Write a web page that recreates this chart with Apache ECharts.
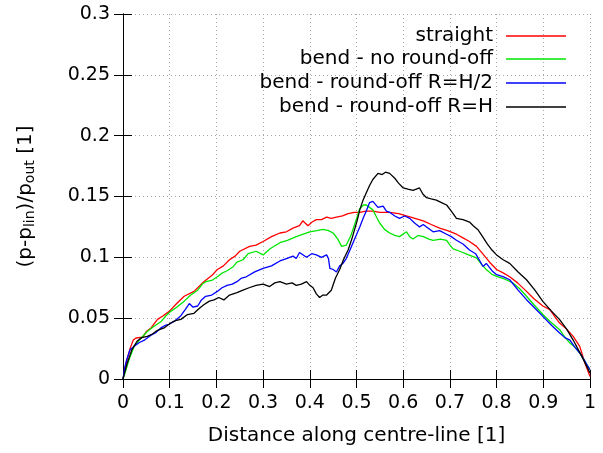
<!DOCTYPE html>
<html>
<head>
<meta charset="utf-8">
<script src="https://cdn.jsdelivr.net/npm/echarts@6/dist/echarts.min.js"></script>
<style>html,body{margin:0;padding:0;background:#fff}#c{width:603px;height:453px}</style>
</head>
<body>
<div id="c"></div>
<script>
const seriesNames = ['straight', 'bend - no round-off', 'bend - round-off R=H/2', 'bend - round-off R=H'];
const xTicks = [0, 0.1, 0.2, 0.3, 0.4, 0.5, 0.6, 0.7, 0.8, 0.9, 1];
const yTicks = [0, 0.05, 0.1, 0.15, 0.2, 0.25, 0.3];

const straight = [[0,0],[0.008,0.015],[0.016,0.026],[0.022,0.032],[0.028,0.0337],[0.042,0.0345],[0.05,0.039],[0.06,0.042],[0.074,0.049],[0.086,0.052],[0.099,0.0556],[0.115,0.062],[0.131,0.068],[0.152,0.072],[0.173,0.080],[0.19,0.085],[0.202,0.090],[0.215,0.093],[0.228,0.098],[0.240,0.101],[0.250,0.105],[0.271,0.109],[0.285,0.110],[0.3,0.113],[0.318,0.117],[0.336,0.120],[0.350,0.121],[0.364,0.124],[0.378,0.126],[0.385,0.130],[0.396,0.126],[0.405,0.129],[0.414,0.131],[0.425,0.131],[0.436,0.133],[0.446,0.132],[0.457,0.133],[0.470,0.134],[0.482,0.136],[0.495,0.137],[0.507,0.137],[0.520,0.138],[0.535,0.138],[0.550,0.137],[0.571,0.137],[0.590,0.136],[0.607,0.134],[0.625,0.132],[0.643,0.130],[0.660,0.127],[0.678,0.124],[0.695,0.122],[0.714,0.119],[0.728,0.116],[0.742,0.113],[0.757,0.109],[0.770,0.103],[0.785,0.096],[0.8,0.090],[0.815,0.087],[0.828,0.084],[0.845,0.079],[0.864,0.072],[0.880,0.066],[0.899,0.060],[0.914,0.057],[0.925,0.051],[0.935,0.046],[0.950,0.041],[0.964,0.035],[0.978,0.0268],[0.989,0.0132],[1.0,0.002]];

const noRoundOff = [[0,0],[0.006,0.007],[0.013,0.016],[0.024,0.027],[0.035,0.032],[0.052,0.039],[0.065,0.043],[0.081,0.047],[0.092,0.052],[0.102,0.0556],[0.115,0.059],[0.131,0.064],[0.145,0.069],[0.16,0.073],[0.170,0.078],[0.177,0.080],[0.190,0.081],[0.202,0.084],[0.212,0.087],[0.223,0.089],[0.235,0.092],[0.244,0.096],[0.257,0.098],[0.268,0.103],[0.285,0.105],[0.3,0.102],[0.315,0.107],[0.336,0.112],[0.352,0.114],[0.371,0.117],[0.386,0.119],[0.4,0.121],[0.415,0.122],[0.428,0.123],[0.440,0.122],[0.45,0.120],[0.460,0.115],[0.468,0.109],[0.478,0.110],[0.488,0.118],[0.496,0.127],[0.507,0.140],[0.515,0.143],[0.521,0.143],[0.535,0.139],[0.543,0.133],[0.55,0.128],[0.560,0.123],[0.571,0.120],[0.582,0.118],[0.592,0.117],[0.607,0.121],[0.614,0.117],[0.621,0.115],[0.632,0.118],[0.643,0.117],[0.655,0.115],[0.664,0.114],[0.680,0.115],[0.693,0.114],[0.700,0.110],[0.707,0.107],[0.721,0.105],[0.740,0.102],[0.757,0.0995],[0.768,0.094],[0.778,0.090],[0.790,0.086],[0.8,0.0844],[0.818,0.082],[0.835,0.079],[0.850,0.074],[0.864,0.068],[0.880,0.061],[0.899,0.053],[0.915,0.047],[0.935,0.0405],[0.945,0.035],[0.957,0.0295],[0.968,0.026],[0.978,0.0214],[0.990,0.014],[1.0,0.0076]];

const roundHalf = [[0,0],[0.004,0.010],[0.008,0.016],[0.015,0.024],[0.024,0.027],[0.035,0.030],[0.046,0.032],[0.06,0.036],[0.070,0.038],[0.081,0.042],[0.090,0.044],[0.099,0.045],[0.112,0.048],[0.124,0.052],[0.135,0.058],[0.142,0.062],[0.15,0.059],[0.16,0.060],[0.168,0.065],[0.177,0.068],[0.190,0.069],[0.202,0.072],[0.212,0.075],[0.223,0.077],[0.234,0.078],[0.244,0.080],[0.254,0.083],[0.264,0.084],[0.282,0.088],[0.3,0.091],[0.318,0.093],[0.336,0.097],[0.350,0.099],[0.364,0.101],[0.371,0.099],[0.378,0.104],[0.393,0.100],[0.404,0.103],[0.414,0.102],[0.425,0.100],[0.436,0.102],[0.440,0.099],[0.443,0.091],[0.450,0.090],[0.457,0.088],[0.464,0.093],[0.471,0.095],[0.478,0.099],[0.486,0.106],[0.496,0.115],[0.507,0.125],[0.514,0.132],[0.521,0.138],[0.528,0.145],[0.535,0.146],[0.546,0.141],[0.557,0.142],[0.564,0.138],[0.571,0.137],[0.582,0.134],[0.592,0.132],[0.603,0.134],[0.614,0.132],[0.625,0.128],[0.635,0.125],[0.643,0.127],[0.650,0.125],[0.664,0.121],[0.678,0.122],[0.693,0.119],[0.703,0.117],[0.714,0.114],[0.728,0.111],[0.742,0.106],[0.755,0.103],[0.771,0.0925],[0.778,0.095],[0.790,0.089],[0.8,0.0857],[0.815,0.084],[0.828,0.0816],[0.846,0.073],[0.864,0.0652],[0.880,0.059],[0.899,0.0515],[0.918,0.044],[0.935,0.0378],[0.946,0.034],[0.957,0.032],[0.968,0.026],[0.978,0.0214],[0.990,0.014],[1.0,0.0076]];

const roundFull = [[0,0],[0.009,0.013],[0.019,0.024],[0.03,0.031],[0.040,0.034],[0.052,0.035],[0.063,0.037],[0.074,0.040],[0.088,0.042],[0.102,0.046],[0.112,0.048],[0.124,0.049],[0.138,0.053],[0.152,0.054],[0.163,0.058],[0.173,0.061],[0.185,0.064],[0.195,0.065],[0.205,0.067],[0.216,0.065],[0.228,0.069],[0.244,0.071],[0.257,0.073],[0.270,0.075],[0.285,0.077],[0.300,0.078],[0.314,0.076],[0.325,0.079],[0.336,0.080],[0.350,0.078],[0.362,0.079],[0.371,0.077],[0.382,0.078],[0.393,0.080],[0.400,0.077],[0.407,0.075],[0.414,0.070],[0.421,0.067],[0.428,0.069],[0.436,0.069],[0.446,0.073],[0.455,0.083],[0.464,0.090],[0.472,0.098],[0.482,0.106],[0.490,0.115],[0.496,0.123],[0.502,0.131],[0.507,0.139],[0.514,0.147],[0.521,0.153],[0.528,0.159],[0.535,0.164],[0.546,0.169],[0.555,0.168],[0.562,0.170],[0.571,0.169],[0.582,0.165],[0.590,0.161],[0.6,0.157],[0.610,0.156],[0.621,0.155],[0.635,0.157],[0.642,0.152],[0.650,0.149],[0.660,0.148],[0.671,0.147],[0.682,0.145],[0.693,0.143],[0.703,0.138],[0.714,0.132],[0.728,0.131],[0.742,0.129],[0.750,0.126],[0.760,0.1227],[0.770,0.117],[0.780,0.111],[0.790,0.106],[0.8,0.102],[0.814,0.098],[0.828,0.095],[0.846,0.088],[0.864,0.0816],[0.882,0.073],[0.899,0.0638],[0.917,0.056],[0.935,0.0488],[0.950,0.041],[0.964,0.032],[0.982,0.019],[1.0,0.005]];

const seriesData = [straight, noRoundOff, roundHalf, roundFull];
const colors = ['#ff0000', '#00e600', '#0000ff', '#000000'];
const legendTops = [26, 49, 73, 97];

const FONT = 'DejaVu Sans';
const chart = echarts.init(document.getElementById('c'), null, {renderer: 'canvas'});

const gridLine = {show: true, lineStyle: {color: '#a8a8a8', type: [1, 3], width: 1}};
const baseAxis = {
  type: 'value',
  axisLine: {show: true, lineStyle: {color: '#000', width: 1}},
  axisTick: {show: true, inside: true, length: 9, lineStyle: {color: '#000'}}
};

const option = {
  animation: false,
  backgroundColor: '#fff',
  grid: {left: 123, right: 13, top: 14, bottom: 74, containLabel: false},
  xAxis: [
    Object.assign({}, baseAxis, {
      position: 'bottom', min: 0, max: 1, interval: 0.1,
      splitLine: gridLine,
      axisLabel: {margin: 15, fontSize: 19, fontFamily: FONT, color: '#000',
        formatter: v => String(xTicks.find(t => Math.abs(t - v) < 1e-9) ?? v)},
      name: 'Distance along centre-line [1]', nameLocation: 'middle', nameGap: 47,
      nameTextStyle: {fontSize: 20, fontFamily: FONT, color: '#000'}
    }),
    Object.assign({}, baseAxis, {
      position: 'top', min: 0, max: 1, interval: 0.1,
      splitLine: {show: false}, axisLabel: {show: false}
    })
  ],
  yAxis: [
    Object.assign({}, baseAxis, {
      position: 'left', min: 0, max: 0.3, interval: 0.05,
      splitLine: gridLine,
      axisLabel: {margin: 13, fontSize: 19, fontFamily: FONT, color: '#000',
        formatter: v => String(yTicks.find(t => Math.abs(t - v) < 1e-9) ?? v)},
      name: '(p-p{sub|lin})/p{sub|out} [1]', nameLocation: 'middle', nameRotate: 90, nameGap: 86,
      nameTextStyle: {fontSize: 20, fontFamily: FONT, color: '#000', lineHeight: 22,
        rich: {sub: {fontSize: 14, fontFamily: FONT, color: '#000', lineHeight: 10, verticalAlign: 'bottom'}}}
    }),
    Object.assign({}, baseAxis, {
      position: 'right', min: 0, max: 0.3, interval: 0.05,
      splitLine: {show: false}, axisLabel: {show: false}
    })
  ],
  legend: seriesNames.map((n, i) => ({
    data: [{name: n, icon: 'rect', itemStyle: {color: colors[i], borderWidth: 0}}],
    orient: 'vertical', align: 'right', right: 37, top: legendTops[i],
    itemWidth: 60, itemHeight: 1.6, padding: 0, selectedMode: false,
    textStyle: {fontSize: 20, fontFamily: FONT, color: '#000', padding: [0, 8, 0, 0]}
  })),
  series: seriesNames.map((n, i) => ({
    name: n, type: 'line', data: seriesData[i], symbol: 'none', showSymbol: false,
    color: colors[i], lineStyle: {color: colors[i], width: 1.3}, smooth: false,
    xAxisIndex: 0, yAxisIndex: 0
  }))
};
chart.setOption(option);
</script>
</body>
</html>
